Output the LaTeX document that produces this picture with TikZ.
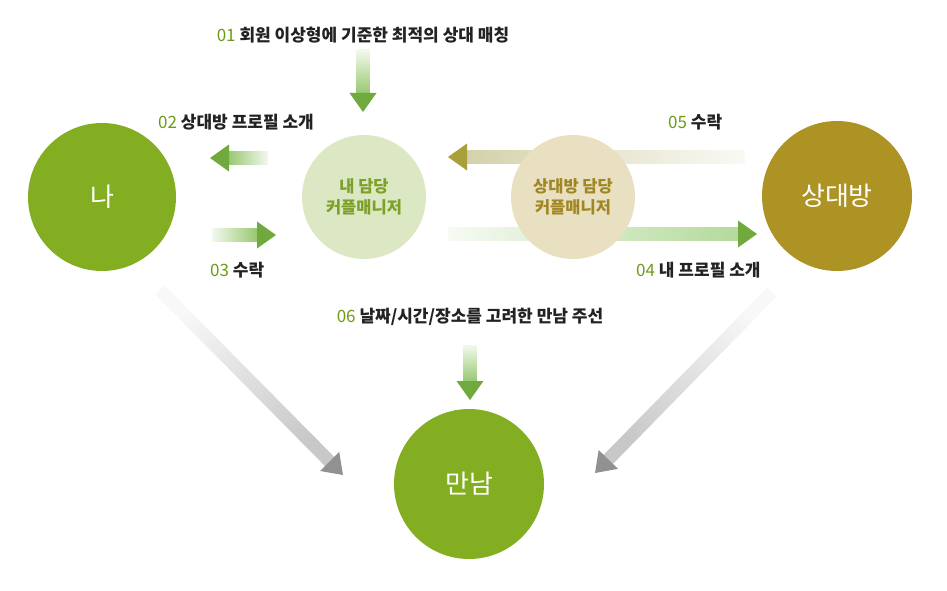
\documentclass[tikz,border=0pt]{standalone}
\usepackage{fontspec}
\setmainfont{Noto Sans CJK KR}
\usetikzlibrary{positioning, calc, backgrounds}
\definecolor{mecol}{RGB}{132, 174, 34}
\definecolor{partnercol}{RGB}{173, 147, 36}
\definecolor{mymgrfill}{RGB}{220, 232, 196}
\definecolor{mymgrtext}{RGB}{125, 160, 40}
\definecolor{ptmgrfill}{RGB}{232, 224, 192}
\definecolor{ptmgrtext}{RGB}{160, 135, 35}
\definecolor{arrgreen}{RGB}{112, 170, 62}
\definecolor{bargreen}{RGB}{150, 200, 110}
\definecolor{barlight}{RGB}{180, 218, 155}
\definecolor{arrolive}{RGB}{168, 160, 58}
\definecolor{barolive}{RGB}{212, 210, 170}
\definecolor{arrgray}{RGB}{145, 145, 145}
\definecolor{bargray}{RGB}{200, 200, 200}
\definecolor{numgreen}{RGB}{108, 155, 22}
\definecolor{labeltext}{RGB}{34, 34, 34}

% arrow with a fading bar: #1 tail, #2 tip, #3 bar colour, #4 head colour
\newcommand{\fadearrow}[4]{%
  \pgfpointdiff{\pgfpointanchor{#1}{center}}{\pgfpointanchor{#2}{center}}%
  \pgfgetlastxy{\arrdx}{\arrdy}%
  \pgfmathsetmacro{\arrlen}{veclen(\arrdx,\arrdy)}%
  \pgfmathsetmacro{\arrang}{atan2(\arrdy,\arrdx)}%
  \pgfmathsetmacro{\shadang}{\arrang+90}%
  \begin{scope}[shift={(#1)}, rotate=\arrang]
    \shade[left color=#3!12, right color=#3, shading angle=\shadang]
      (0,-6.5) rectangle (\arrlen-18,6.5);
    \fill[#4] (\arrlen-19,-13.5) -- (\arrlen,0) -- (\arrlen-19,13.5) -- cycle;
  \end{scope}%
}

\begin{document}
\begin{tikzpicture}[
        x=1pt, y=1pt,
        person/.style={circle, minimum size=148pt, inner sep=0pt,
                       text=white, font=\fontsize{26}{30}\selectfont},
        manager/.style={circle, minimum size=124pt, inner sep=0pt, align=center,
                        font=\fontsize{16.5}{21}\selectfont\bfseries},
        steplabel/.style={inner sep=0pt, text=labeltext,
                          font=\fontsize{17}{20}\selectfont\bfseries},
    ]
        \useasboundingbox (0,0) rectangle (947,590);

        \node[person, fill=mecol] (me) at (102,393) {나};
        \node[manager, fill=mymgrfill, text=mymgrtext] (mymgr) at (364,393) {내 담당\\커플매니저};
        \node[manager, fill=ptmgrfill, text=ptmgrtext] (ptmgr) at (573,393) {상대방 담당\\커플매니저};
        \node[person, fill=partnercol, minimum size=150pt] (partner) at (837,394) {상대방};
        \node[person, fill=mecol, minimum size=150pt] (meet) at (469,106) {만남};

        \coordinate (t01) at (363,540);  \coordinate (h01) at (363,478);
        \coordinate (t02) at (268,432);  \coordinate (h02) at (210,432);
        \coordinate (t03) at (212,355);  \coordinate (h03) at (276,355);
        \coordinate (t04) at (448,356);  \coordinate (h04) at (757,356);
        \coordinate (t05) at (745,433);  \coordinate (h05) at (448,433);
        \coordinate (t06) at (470,245);  \coordinate (h06) at (470,190);
        \coordinate (tme) at (160,300);  \coordinate (hme) at (343,115);
        \coordinate (tpt) at (772,298);  \coordinate (hpt) at (595,117);

        \begin{scope}[on background layer]
            \fadearrow{t01}{h01}{bargreen}{arrgreen}
            \fadearrow{t02}{h02}{bargreen}{arrgreen}
            \fadearrow{t03}{h03}{bargreen}{arrgreen}
            \fadearrow{t04}{h04}{barlight}{arrgreen}
            \fadearrow{t05}{h05}{barolive}{arrolive}
            \fadearrow{t06}{h06}{bargreen}{arrgreen}
            \fadearrow{tme}{hme}{bargray}{arrgray}
            \fadearrow{tpt}{hpt}{bargray}{arrgray}
        \end{scope}

        \node[steplabel] (l01) at (363,555) {{\mdseries\color{numgreen}01}\ 회원 이상형에 기준한 최적의 상대 매칭};
        \node[steplabel, anchor=west] (l02) at (158,468) {{\mdseries\color{numgreen}02}\ 상대방 프로필 소개};
        \node[steplabel, anchor=west] (l03) at (210,320) {{\mdseries\color{numgreen}03}\ 수락};
        \node[steplabel, anchor=west] (l04) at (636,320) {{\mdseries\color{numgreen}04}\ 내 프로필 소개};
        \node[steplabel, anchor=west] (l05) at (668,468) {{\mdseries\color{numgreen}05}\ 수락};
        \node[steplabel] (l06) at (470,273) {{\mdseries\color{numgreen}06}\ 날짜/시간/장소를 고려한 만남 주선};

    \end{tikzpicture}
\end{document}
